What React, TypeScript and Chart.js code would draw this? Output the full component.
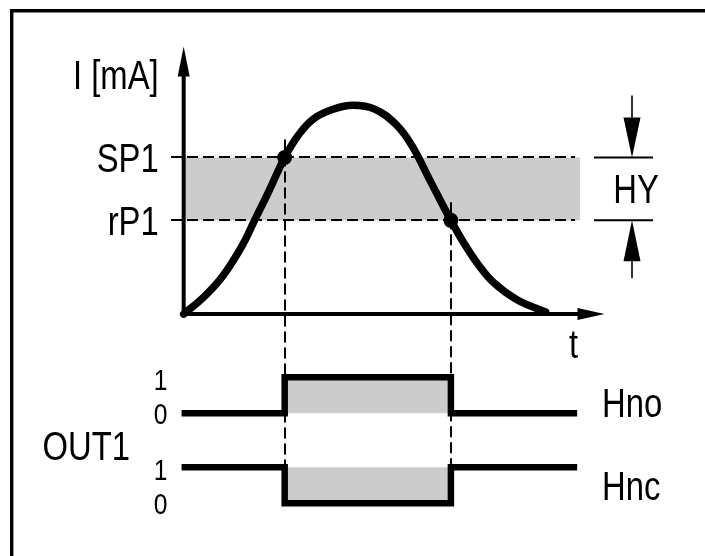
import React, { useEffect, useRef } from "react";
import { Chart, registerables } from "chart.js";

Chart.register(...registerables);

// ---------------- data ----------------
const curveT = [0, 0.47, 0.93, 1.4, 1.67, 2.02, 2.4, 2.72, 3.09, 3.55, 4.02, 4.55, 5.05, 5.42, 5.88, 6.35, 6.67, 6.98, 7.37, 7.91, 8.6];
const curveI = [0, 1.24, 2.84, 5.16, 6.91, 9.15, 11.7, 13.35, 14.6, 15.3, 15.6, 15.3, 14.15, 12.6, 9.82, 7.0, 5.24, 3.78, 2.33, 1.09, 0.15];
const thresholdNames = ["SP1", "rP1"];
const thresholdValues = [11.7, 7.0];
const switchTimes = [2.4, 6.35];
const stepTimes = [-0.05, 2.4, 2.4, 6.35, 6.35, 9.35];
const hnoLevels = [0, 0, 1, 1, 0, 0];
const hncLevels = [1, 1, 0, 0, 1, 1];
const levelTickLabels = ["1", "0"];
const levelTickValues = [1, 0];
const outputNames = ["Hno", "Hnc"];
const outputOffsets = [0, -2.5];
const axisLabelY = "I [mA]";
const axisLabelX = "t";
const groupLabel = "OUT1";
const hysteresisLabel = "HY";
const tAxisMax = 10;
const iAxisMax = 20;
const bandEndT = 9.42;
const dashStartT = -0.3;
const dashEndT = 9.3;

// ---------------- layout ----------------
const W = 705;
const H = 556;
const ORIGIN_X = 180;
const ORIGIN_Y = 315;
const PX_PER_T = 43;
const PX_PER_I = 13.75;
const OUT0_Y = 417;
const PX_PER_LEVEL = 37;
const GRAY = "#cccccc";

function pickFont(ctx: CanvasRenderingContext2D) {
  ctx.font = "40px monospace";
  const a = ctx.measureText("SP1 Hno OUT1").width;
  ctx.font = '40px "Liberation Sans Narrow", monospace';
  const b = ctx.measureText("SP1 Hno OUT1").width;
  if (Math.abs(a - b) > 0.5) return { family: '"Liberation Sans Narrow"', sx: 1 };
  return { family: '"Liberation Sans", Arial, sans-serif', sx: 0.82 };
}

const diagramPlugin = {
  id: "diagram",
  beforeDatasetsDraw(chart: any) {
    const ctx: CanvasRenderingContext2D = chart.ctx;
    const x = chart.scales.x;
    const yI = chart.scales.yI;
    const yO = chart.scales.yO;
    ctx.save();
    // frame
    ctx.strokeStyle = "#000";
    ctx.lineWidth = 3.4;
    ctx.beginPath();
    ctx.moveTo(11.7, H + 10);
    ctx.lineTo(11.7, 10.7);
    ctx.lineTo(W + 10, 10.7);
    ctx.stroke();

    // hysteresis band
    const ySP = yI.getPixelForValue(thresholdValues[0]);
    const yRP = yI.getPixelForValue(thresholdValues[1]);
    const bx0 = x.getPixelForValue(0);
    const bx1 = x.getPixelForValue(bandEndT);
    ctx.fillStyle = GRAY;
    ctx.fillRect(bx0, ySP, bx1 - bx0, yRP - ySP);

    // output fills
    const xa = x.getPixelForValue(switchTimes[0]);
    const xb = x.getPixelForValue(switchTimes[1]);
    outputOffsets.forEach((off) => {
      const y1 = yO.getPixelForValue(1 + off);
      const y0 = yO.getPixelForValue(0 + off);
      ctx.fillRect(xa, y1, xb - xa, y0 - y1);
    });

    // dashed lines
    ctx.setLineDash([11, 5]);
    ctx.lineWidth = 2;
    ctx.beginPath();
    thresholdValues.forEach((v) => {
      const yy = Math.round(yI.getPixelForValue(v));
      ctx.moveTo(x.getPixelForValue(dashStartT), yy);
      ctx.lineTo(x.getPixelForValue(dashEndT), yy);
    });
    const yBottom = yO.getPixelForValue(0 + outputOffsets[1]);
    switchTimes.forEach((t, i) => {
      const xx = Math.round(x.getPixelForValue(t));
      ctx.moveTo(xx, yI.getPixelForValue(thresholdValues[i]) - 18);
      ctx.lineTo(xx, yBottom);
    });
    ctx.stroke();
    ctx.setLineDash([]);

    // axes
    const ox = x.getPixelForValue(0);
    const oy = yI.getPixelForValue(0);
    const tipY = yI.getPixelForValue(iAxisMax);
    const tipX = x.getPixelForValue(tAxisMax);
    ctx.lineWidth = 4;
    ctx.beginPath();
    ctx.moveTo(ox, oy + 2);
    ctx.lineTo(ox, tipY + 25);
    ctx.moveTo(ox - 2, oy);
    ctx.lineTo(tipX - 22, oy);
    ctx.stroke();
    ctx.fillStyle = "#000";
    ctx.beginPath();
    ctx.moveTo(ox, tipY);
    ctx.lineTo(ox - 6, tipY + 30);
    ctx.lineTo(ox + 6, tipY + 30);
    ctx.closePath();
    ctx.fill();
    ctx.beginPath();
    ctx.moveTo(tipX, oy);
    ctx.lineTo(tipX - 27, oy - 6);
    ctx.lineTo(tipX - 27, oy + 6);
    ctx.closePath();
    ctx.fill();

    // HY marks
    const hx = 632;
    ctx.lineWidth = 2;
    ctx.beginPath();
    ctx.moveTo(594, ySP);
    ctx.lineTo(653, ySP);
    ctx.moveTo(594, yRP);
    ctx.lineTo(653, yRP);
    ctx.stroke();
    ctx.lineWidth = 1.6;
    ctx.beginPath();
    ctx.moveTo(hx, ySP - 62);
    ctx.lineTo(hx, ySP - 38);
    ctx.moveTo(hx, yRP + 38);
    ctx.lineTo(hx, yRP + 58);
    ctx.stroke();
    ctx.beginPath();
    ctx.moveTo(hx, ySP);
    ctx.lineTo(hx - 8.5, ySP - 40);
    ctx.lineTo(hx + 8.5, ySP - 40);
    ctx.closePath();
    ctx.fill();
    ctx.beginPath();
    ctx.moveTo(hx, yRP);
    ctx.lineTo(hx - 8.5, yRP + 41);
    ctx.lineTo(hx + 8.5, yRP + 41);
    ctx.closePath();
    ctx.fill();
    ctx.restore();
  },
  afterDatasetsDraw(chart: any) {
    const ctx: CanvasRenderingContext2D = chart.ctx;
    const x = chart.scales.x;
    const yI = chart.scales.yI;
    const yO = chart.scales.yO;
    const f = pickFont(ctx);
    ctx.save();
    ctx.fillStyle = "#000";
    ctx.textBaseline = "alphabetic";
    const text = (s: string, px: number, py: number, align: CanvasTextAlign, size: number) => {
      ctx.save();
      ctx.font = `${size}px ${f.family}`;
      ctx.textAlign = align;
      ctx.translate(px, py);
      ctx.scale(f.sx, 1);
      ctx.fillText(s, 0, 0);
      ctx.restore();
    };
    const ox = x.getPixelForValue(0);
    const oy = yI.getPixelForValue(0);
    text(axisLabelY, ox - 25, yI.getPixelForValue(iAxisMax) + 43, "right", 40);
    thresholdNames.forEach((n, i) => {
      text(n, ox - 25, yI.getPixelForValue(thresholdValues[i]) + 14.5, "right", 40);
    });
    text(axisLabelX, x.getPixelForValue(tAxisMax) - 31, oy + 44, "center", 40);
    const ySP = yI.getPixelForValue(thresholdValues[0]);
    const yRP = yI.getPixelForValue(thresholdValues[1]);
    text(hysteresisLabel, 636, (ySP + yRP) / 2 + 14.5, "center", 40);
    const nameDy = [22, 15];
    outputOffsets.forEach((off, k) => {
      levelTickValues.forEach((lv, j) => {
        text(levelTickLabels[j], ox - 23, yO.getPixelForValue(lv + off) + (lv === 1 ? 12.5 : 10.5), "center", 30);
      });
      text(outputNames[k], 602, yO.getPixelForValue(0.5 + off) + nameDy[k], "left", 40);
    });
    text(groupLabel, 130, (yO.getPixelForValue(0) + yO.getPixelForValue(1 + outputOffsets[1])) / 2 + 20, "right", 40);
    ctx.restore();
  },
};

export default function App() {
  const ref = useRef<HTMLCanvasElement | null>(null);
  useEffect(() => {
    if (!ref.current) return;
    const curve = curveT.map((t, i) => ({ x: t, y: curveI[i] }));
    const dots = switchTimes.map((t, i) => ({ x: t, y: thresholdValues[i] }));
    const hno = stepTimes.map((t, i) => ({ x: t, y: hnoLevels[i] + outputOffsets[0] }));
    const hnc = stepTimes.map((t, i) => ({ x: t, y: hncLevels[i] + outputOffsets[1] }));
    const chart = new Chart(ref.current, {
      type: "line",
      data: {
        datasets: [
          {
            label: "points",
            data: dots,
            yAxisID: "yI",
            showLine: false,
            pointRadius: 7.5,
            pointBackgroundColor: "#000",
            pointBorderWidth: 0,
            borderColor: "#000",
            order: 0,
          },
          {
            label: "I",
            data: curve,
            yAxisID: "yI",
            borderColor: "#000",
            borderWidth: 7.5,
            pointRadius: 0,
            tension: 0.4,
            borderCapStyle: "round",
            borderJoinStyle: "round",
            fill: false,
            order: 1,
          },
          {
            label: "Hno",
            data: hno,
            yAxisID: "yO",
            borderColor: "#000",
            borderWidth: 6.5,
            borderJoinStyle: "miter",
            borderCapStyle: "butt",
            pointRadius: 0,
            tension: 0,
            fill: false,
            order: 2,
          },
          {
            label: "Hnc",
            data: hnc,
            yAxisID: "yO",
            borderColor: "#000",
            borderWidth: 6.5,
            borderJoinStyle: "miter",
            borderCapStyle: "butt",
            pointRadius: 0,
            tension: 0,
            fill: false,
            order: 3,
          },
        ],
      },
      options: {
        animation: false,
        responsive: false,
        maintainAspectRatio: false,
        devicePixelRatio: 1,
        events: [],
        layout: { padding: 0 },
        plugins: { legend: { display: false }, tooltip: { enabled: false }, title: { display: false } },
        scales: {
          x: { type: "linear", display: false, min: -ORIGIN_X / PX_PER_T, max: (W - ORIGIN_X) / PX_PER_T },
          yI: { type: "linear", display: false, min: (ORIGIN_Y - H) / PX_PER_I, max: ORIGIN_Y / PX_PER_I },
          yO: { type: "linear", display: false, min: (OUT0_Y - H) / PX_PER_LEVEL, max: OUT0_Y / PX_PER_LEVEL },
        },
      },
      plugins: [diagramPlugin],
    } as any);
    return () => chart.destroy();
  }, []);
  return (
    <div style={{ position: "absolute", left: 0, top: 0, width: W, height: H, background: "#fff" }}>
      <canvas ref={ref} width={W} height={H} style={{ display: "block" }} />
    </div>
  );
}
